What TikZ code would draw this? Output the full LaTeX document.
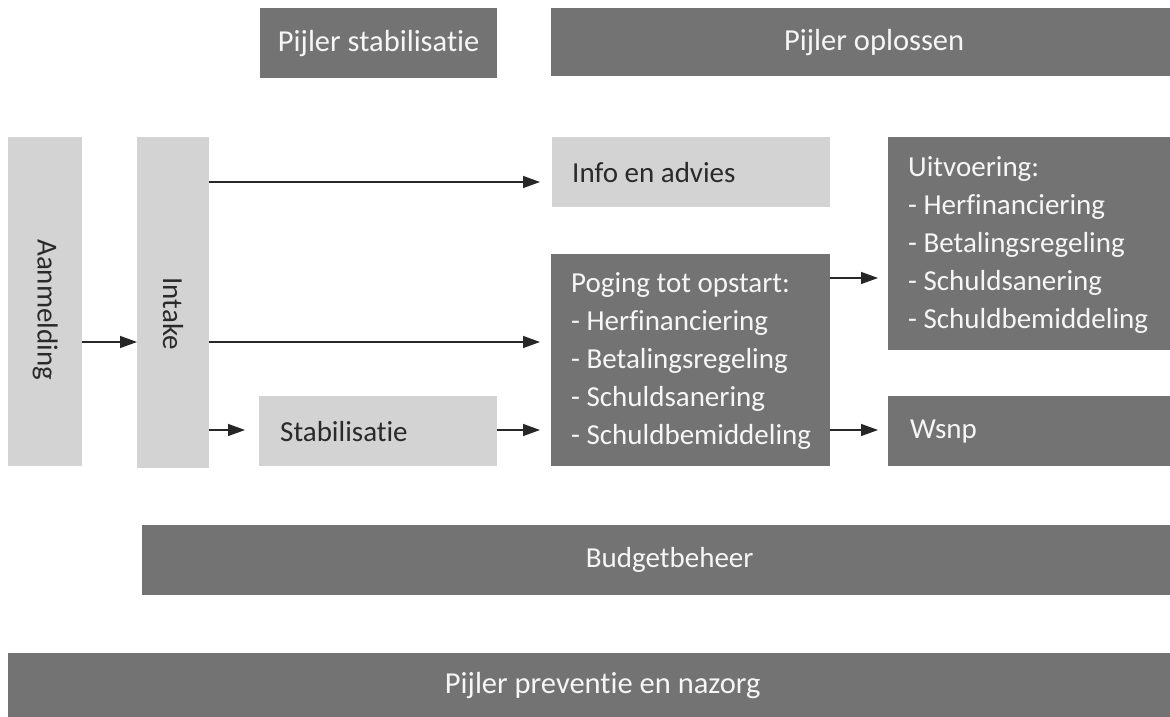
\documentclass[tikz,border=0pt]{standalone}
\usepackage{fontspec}
\setmainfont[Ligatures=NoCommon]{Carlito}
\usetikzlibrary{arrows.meta,positioning,calc}
\definecolor{darkbox}{HTML}{737373}
\definecolor{lightbox}{HTML}{D3D3D3}
\definecolor{txtdark}{HTML}{2A2A2A}
\definecolor{txtlight}{HTML}{F6F6F6}
\newcommand{\bodyfont}{\fontsize{29}{38}\selectfont}
\newcommand{\titlefont}{\fontsize{30.5}{38}\selectfont}
\tikzset{
  dbox/.style={fill=darkbox, draw=none, text=txtlight, anchor=north west, inner sep=0pt,
    font=\bodyfont},
  lbox/.style={fill=lightbox, draw=none, text=txtdark, anchor=north west, inner sep=0pt,
    font=\bodyfont},
  arr/.style={draw=black!85, line width=1.4pt, -{Triangle[length=17pt,width=12pt]}},
  lbl/.style={inner sep=0pt, anchor=north west, align=left, font=\bodyfont},
  txt/.style={inner sep=0pt, font=\bodyfont},
}
\begin{document}
\begin{tikzpicture}[x=1pt,y=-1pt]
\useasboundingbox (0,0) rectangle (1170,717);
% boxes (right-hand boxes run past the picture's right edge)
\node[dbox, font=\titlefont, minimum width=237pt, minimum height=70pt] (pstab) at (260,8) {Pijler stabilisatie};
\node[dbox, font=\titlefont, minimum width=646pt, minimum height=68pt] (popl) at (551,8) {Pijler oplossen};
\node[lbox, minimum width=74pt, minimum height=329pt] (aanm) at (8,137) {};
\node[lbox, minimum width=72pt, minimum height=331pt] (intake) at (137,137) {};
\node[lbox, minimum width=278pt, minimum height=70pt] (info) at (552,137) {};
\node[dbox, minimum width=309pt, minimum height=213pt] (uitv) at (888,137) {};
\node[dbox, minimum width=279pt, minimum height=212pt] (poging) at (551,254) {};
\node[lbox, minimum width=238pt, minimum height=70pt] (stab) at (259,396) {};
\node[dbox, minimum width=309pt, minimum height=70pt] (wsnp) at (888,396) {};
\node[dbox, minimum width=1055pt, minimum height=70pt] (budget) at (142,525) {Budgetbeheer};
\node[dbox, font=\titlefont, minimum width=1189pt, minimum height=64pt] (prev) at (8,653) {Pijler preventie en nazorg};
% texts
\node[txt, rotate=-90, text=txtdark] (aanmt) at ($(aanm.center)+(0,8)$) {Aanmelding};
\node[txt, rotate=-90, text=txtdark] (intt) at ($(intake.center)+(0,11)$) {Intake};
\node[txt, anchor=west, text=txtdark] (infot) at ($(info.west)+(20,0)$) {Info en advies};
\node[txt, anchor=west, text=txtdark] (stabt) at ($(stab.west)+(21,0)$) {Stabilisatie};
\node[txt, anchor=west, text=txtlight] (wsnpt) at ($(wsnp.west)+(22,0)$) {Wsnp};
\node[lbl, text=txtlight] (uitvt) at ($(uitv.north west)+(20,19)$) {Uitvoering:\\- Herfinanciering\\- Betalingsregeling\\- Schuldsanering\\- Schuldbemiddeling};
\node[lbl, text=txtlight] (pogt) at ($(poging.north west)+(20,18)$) {Poging tot opstart:\\- Herfinanciering\\- Betalingsregeling\\- Schuldsanering\\- Schuldbemiddeling};
% arrows
\draw[arr] (aanm.east |- 0,342) -- (intake.west |- 0,342);
\draw[arr] (intake.east |- 0,182) -- ([xshift=-12pt]info.west |- 0,182);
\draw[arr] (intake.east |- 0,342) -- ([xshift=-11pt]poging.west |- 0,342);
\draw[arr] (intake.east |- 0,430) -- ([xshift=-14pt]stab.west |- 0,430);
\draw[arr] (stab.east |- 0,430) -- ([xshift=-11pt]poging.west |- 0,430);
\draw[arr] (poging.east |- 0,278) -- ([xshift=-10pt]uitv.west |- 0,278);
\draw[arr] (poging.east |- 0,430) -- ([xshift=-10pt]wsnp.west |- 0,430);
\end{tikzpicture}
\end{document}
